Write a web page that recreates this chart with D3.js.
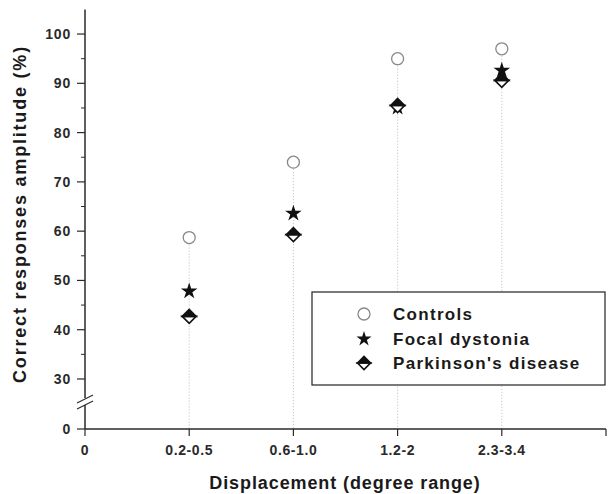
<!DOCTYPE html>
<html><head><meta charset="utf-8">
<script src="https://cdn.jsdelivr.net/npm/d3@7"></script>
<style>body{margin:0;background:#fff}svg{display:block}text{font-family:"Liberation Sans",Arial,sans-serif;font-weight:bold}</style>
</head><body><div id="c"></div>
<script>
const categories = ["0.2-0.5","0.6-1.0","1.2-2","2.3-3.4"];
const controls = [58.7, 74, 95, 97];
const focalDystonia = [48, 63.8, 85.3, 92.8];
const parkinsons = [42.7, 59.3, 85.5, 90.6];
const yTicks = [0, 30, 40, 50, 60, 70, 80, 90, 100];
const yMinor = [35, 45, 55, 65, 75, 85, 95];
const xTickLabels = ["0","0.2-0.5","0.6-1.0","1.2-2","2.3-3.4",""];

const W = 608, H = 494;
const svg = d3.select("#c").append("svg").attr("width", W).attr("height", H);
const x = d3.scaleLinear().domain([0, 5]).range([85, 606]);
const y = d3.scaleLinear().domain([0, 30, 105]).range([429, 379, 9.4]);
const axisColor = "#2a2a2a", textColor = "#2a2a2a";

// drop lines
categories.forEach((c, i) => {
  svg.append("line").attr("x1", x(i + 1)).attr("x2", x(i + 1))
    .attr("y1", y(controls[i]) + 7).attr("y2", y(0))
    .attr("stroke", "#bbb").attr("stroke-width", 1).attr("stroke-dasharray", "1,2");
});

// Y axis
const yAxis = svg.append("g").attr("transform", `translate(${x(0)},0)`);
yAxis.append("line").attr("x1", 0).attr("x2", 0).attr("y1", y(105)).attr("y2", y(0))
  .attr("stroke", axisColor).attr("stroke-width", 1.5);
yTicks.forEach(t => {
  yAxis.append("line").attr("x1", -8).attr("x2", 0).attr("y1", y(t)).attr("y2", y(t))
    .attr("stroke", axisColor).attr("stroke-width", 1.2);
  yAxis.append("text").attr("x", -14).attr("y", y(t)).attr("dy", "0.36em")
    .attr("text-anchor", "end").attr("font-size", 14).attr("letter-spacing", 0.8)
    .attr("fill", textColor).text(t);
});
yMinor.forEach(t => {
  yAxis.append("line").attr("x1", -4).attr("x2", 0).attr("y1", y(t)).attr("y2", y(t))
    .attr("stroke", axisColor).attr("stroke-width", 1);
});
// break
const by = (y(0) + y(30)) / 2 - 2;
yAxis.append("rect").attr("x", -3).attr("y", by - 4).attr("width", 6).attr("height", 7).attr("fill", "#fff");
[-3, 3].forEach(d => {
  yAxis.append("line").attr("x1", -8).attr("x2", 8).attr("y1", by + d + 4).attr("y2", by + d - 4)
    .attr("stroke", axisColor).attr("stroke-width", 1.2);
});

// X axis
const xAxis = svg.append("g").attr("transform", `translate(0,${y(0)})`);
xAxis.append("line").attr("x1", x(0)).attr("x2", x(5)).attr("stroke", axisColor).attr("stroke-width", 1.5);
xTickLabels.forEach((l, i) => {
  xAxis.append("line").attr("x1", x(i)).attr("x2", x(i)).attr("y1", 0).attr("y2", 7)
    .attr("stroke", axisColor).attr("stroke-width", 1.2);
  xAxis.append("text").attr("x", x(i)).attr("y", 26).attr("text-anchor", "middle")
    .attr("font-size", 14).attr("letter-spacing", 0.6).attr("fill", textColor).text(l);
});

// titles
svg.append("text").attr("x", 345).attr("y", 489).attr("text-anchor", "middle")
  .attr("font-size", 18).attr("letter-spacing", 0.9).attr("fill", "#1a1a1a").text("Displacement (degree range)");
svg.append("text").attr("transform", "translate(26,214) rotate(-90)").attr("text-anchor", "middle")
  .attr("font-size", 18).attr("letter-spacing", 1.8).attr("fill", "#1a1a1a").text("Correct responses amplitude (%)");

// markers
function circle(g, cx, cy) {
  g.append("circle").attr("cx", cx).attr("cy", cy).attr("r", 6)
    .attr("fill", "#fff").attr("stroke", "#888").attr("stroke-width", 1.3);
}
function star(g, cx, cy, s) {
  g.append("path").attr("d", d3.symbol(d3.symbolStar, s || 85)())
    .attr("transform", `translate(${cx},${cy + 1})`).attr("fill", "#111");
}
function diamond(g, cx, cy, r) {
  r = r || 7;
  g.append("path").attr("d", `M${cx - r},${cy}L${cx},${cy + r}L${cx + r},${cy}Z`)
    .attr("fill", "#fff").attr("stroke", "#111").attr("stroke-width", 1.6).attr("stroke-linejoin", "miter");
  g.append("path").attr("d", `M${cx - r},${cy}L${cx},${cy - r}L${cx + r},${cy}Z`)
    .attr("fill", "#111").attr("stroke", "#111").attr("stroke-width", 1.6);
}
const pts = svg.append("g");
categories.forEach((c, i) => {
  circle(pts, x(i + 1), y(controls[i]));
  star(pts, x(i + 1), y(focalDystonia[i]));
  diamond(pts, x(i + 1), y(parkinsons[i]));
});

// legend
const lg = svg.append("g");
lg.append("rect").attr("x", 312).attr("y", 292).attr("width", 293).attr("height", 93)
  .attr("fill", "#fff").attr("stroke", "#222").attr("stroke-width", 1.2);
const names = ["Controls", "Focal dystonia", "Parkinson's disease"];
const ly = [314, 339, 363];
circle(lg, 364, ly[0]);
star(lg, 364, ly[1] - 1, 70);
diamond(lg, 364, ly[2], 6.5);
names.forEach((n, i) => {
  lg.append("text").attr("x", 393).attr("y", ly[i]).attr("dy", "0.36em")
    .attr("font-size", 17).attr("letter-spacing", 1.3).attr("fill", "#1a1a1a").text(n);
});
</script></body></html>
